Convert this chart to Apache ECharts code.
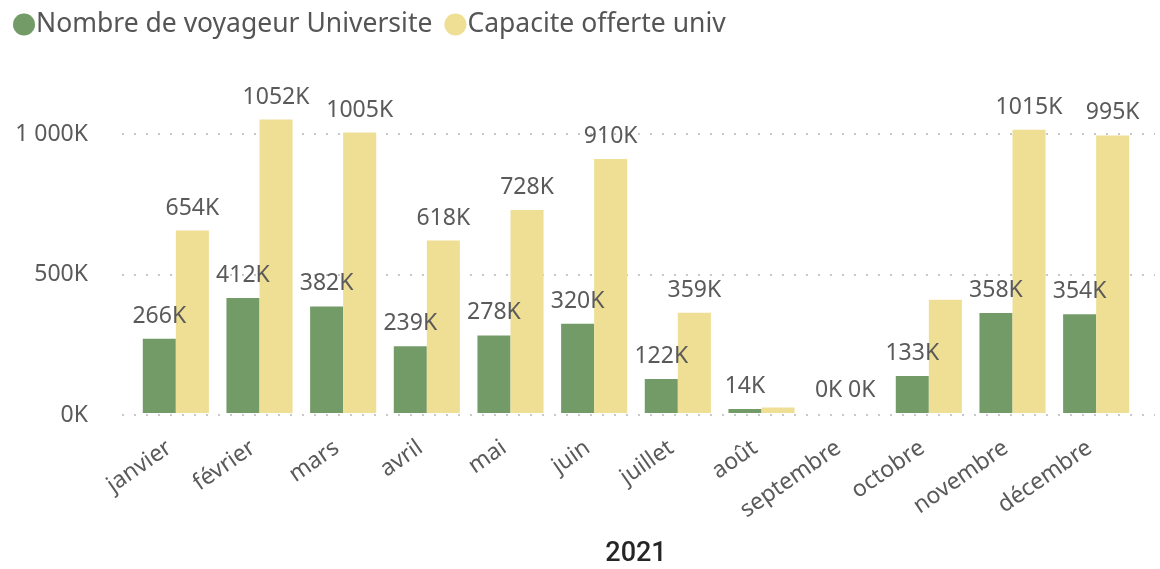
<!DOCTYPE html>
<html>
<head>
<meta charset="utf-8">
<script src="https://cdn.jsdelivr.net/npm/echarts@6/dist/echarts.min.js"></script>
<style>
  html, body { margin: 0; padding: 0; background: #fff; }
  #chart { width: 1160px; height: 569px; }
</style>
</head>
<body>
<div id="chart"></div>
<script>
const months = ['janvier', 'février', 'mars', 'avril', 'mai', 'juin', 'juillet', 'août', 'septembre', 'octobre', 'novembre', 'décembre']
const voyageurs = [266000, 412000, 382000, 239000, 278000, 320000, 122000, 14000, 0, 133000, 358000, 354000]
const capacite = [654000, 1052000, 1005000, 618000, 728000, 910000, 359000, 20000, 0, 406000, 1015000, 995000]
// labels Power BI hid because they overlapped
const hiddenCapLabels = ['août', 'octobre']

const fmtK = v => Math.round(v / 1000) + 'K'
const fmtAxis = v => {
  const k = Math.round(v / 1000)
  return String(k).replace(/\B(?=(\d{3})+(?!\d))/g, ' ') + 'K'
}

const font = "'Noto Sans', 'Open Sans', sans-serif"
const labelStyle = { show: true, position: 'top', color: '#5a5a5a', fontSize: 23, fontFamily: font, formatter: p => fmtK(p.value), distance: 11 }

const chart = echarts.init(document.getElementById('chart'))
chart.setOption({
  animation: false,
  legend: {
    left: 8, top: 6,
    icon: 'circle', itemWidth: 22, itemHeight: 22, itemGap: 12,
    textStyle: { color: '#555', fontSize: 26.5, fontFamily: font, padding: [0, 0, 0, -4] },
    data: ['Nombre de voyageur Universite', 'Capacite offerte univ']
  },
  // grid 0: bars; grid 1: wider, only carries the dotted gridlines and y labels
  grid: [
    { left: 134, right: 22, top: 134, bottom: 154 },
    { left: 122, right: 5, top: 134, bottom: 154 }
  ],
  xAxis: [
    {
      type: 'category', gridIndex: 0,
      data: months,
      name: '2021',
      nameLocation: 'middle',
      nameGap: 128,
      nameTextStyle: { color: '#252525', fontSize: 27, fontFamily: "Roboto, 'Noto Sans', sans-serif", fontWeight: 500 },
      axisLine: { show: false },
      axisTick: { show: false },
      axisLabel: { rotate: 35, color: '#5a5a5a', fontSize: 23, fontFamily: font, margin: 14, interval: 0, verticalAlign: 'top', padding: [0, 16, 0, 0] }
    },
    { type: 'category', gridIndex: 1, data: months, show: false }
  ],
  yAxis: [
    {
      type: 'value', gridIndex: 0,
      min: 0, max: 1000000, interval: 500000,
      show: false
    },
    {
      type: 'value', gridIndex: 1,
      min: 0, max: 1000000, interval: 500000,
      axisLabel: { formatter: fmtAxis, color: '#5a5a5a', fontSize: 23, fontFamily: font, margin: 34 },
      splitLine: { lineStyle: { color: '#c8c8c8', type: [2, 10], width: 2 } }
    }
  ],
  series: [
    {
      name: 'Nombre de voyageur Universite', type: 'bar', clip: false,
      barGap: '0%', barCategoryGap: '21%',
      itemStyle: { color: '#739b67' },
      label: labelStyle,
      data: voyageurs
    },
    {
      name: 'Capacite offerte univ', type: 'bar', clip: false,
      itemStyle: { color: '#eedf94' },
      label: labelStyle,
      data: capacite.map((v, i) => hiddenCapLabels.includes(months[i]) ? { value: v, label: { show: false } } : v)
    }
  ]
})
</script>
</body>
</html>
